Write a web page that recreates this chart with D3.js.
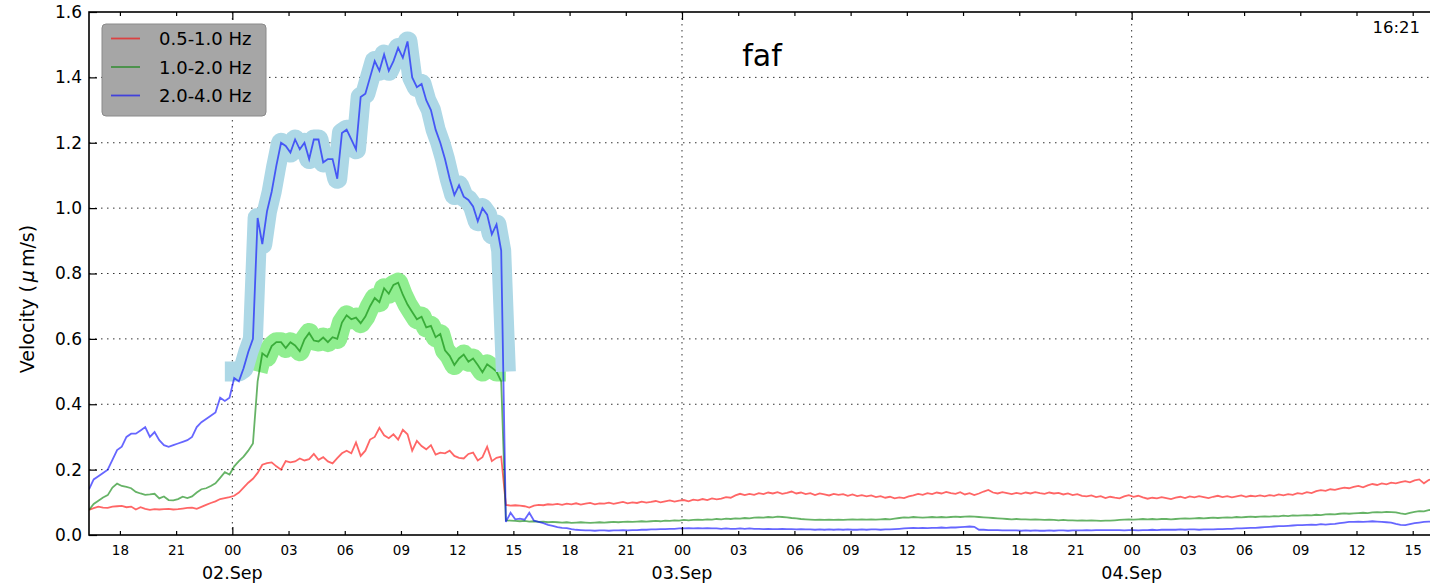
<!DOCTYPE html>
<html><head><meta charset="utf-8">
<script src="https://cdn.jsdelivr.net/npm/d3@7"></script>
<style>
html,body{margin:0;padding:0;background:#fff;}
svg{display:block;font-family:"DejaVu Sans",sans-serif;}
</style></head><body>
<svg id="chart" width="1430" height="588"></svg>
<script>
// ---------------- data ----------------
const startTime = Date.UTC(2017, 8, 1, 16, 21);
const endTime = Date.UTC(2017, 8, 4, 16, 21);
const stepMinutes = 15;
const seriesNames = ["0.5-1.0 Hz", "1.0-2.0 Hz", "2.0-4.0 Hz"];
const yTicks = [0, 0.2, 0.4, 0.6, 0.8, 1.0, 1.2, 1.4, 1.6];
const stationName = "faf";
const timeLabel = "16:21";
const alertLevel = 0.5;
const greenAlertWindow = [Date.UTC(2017, 8, 2, 1, 21), Date.UTC(2017, 8, 2, 14, 36)];
const blueAlertWindow = [Date.UTC(2017, 8, 1, 23, 36), Date.UTC(2017, 8, 2, 14, 36)];

const red = [
0.077,0.082,0.087,0.084,0.083,0.087,0.088,0.089,0.085,0.087,
0.078,0.085,0.080,0.077,0.079,0.078,0.079,0.080,0.078,0.079,
0.081,0.083,0.084,0.080,0.086,0.092,0.098,0.103,0.110,0.113,
0.116,0.120,0.130,0.145,0.160,0.172,0.190,0.215,0.220,0.222,
0.210,0.200,0.226,0.222,0.225,0.234,0.228,0.232,0.248,0.230,
0.238,0.225,0.219,0.235,0.250,0.258,0.250,0.283,0.242,0.258,
0.292,0.300,0.328,0.305,0.296,0.308,0.292,0.322,0.308,0.258,
0.288,0.272,0.262,0.275,0.246,0.252,0.250,0.258,0.242,0.236,
0.234,0.248,0.252,0.228,0.238,0.270,0.226,0.236,0.240,
0.092,0.090,0.091,0.090,0.088,0.084,0.090,0.092,0.091,0.094,0.093,
0.095,0.092,0.096,0.094,0.097,0.093,0.096,0.098,0.094,0.097,
0.096,0.099,0.095,0.098,0.101,0.097,0.100,0.098,0.102,0.099,
0.101,0.104,0.100,0.103,0.106,0.102,0.105,0.107,0.103,0.108,
0.106,0.110,0.107,0.112,0.109,0.111,0.116,0.114,0.121,0.126,
0.122,0.126,0.123,0.128,0.125,0.130,0.127,0.131,0.126,0.129,
0.133,0.127,0.130,0.125,0.128,0.122,0.127,0.124,0.121,0.126,
0.123,0.125,0.120,0.124,0.119,0.122,0.118,0.121,0.116,0.119,
0.114,0.117,0.112,0.115,0.113,0.118,0.121,0.126,0.123,0.128,
0.125,0.130,0.127,0.132,0.128,0.126,0.131,0.124,0.128,0.122,
0.127,0.133,0.138,0.130,0.127,0.131,0.128,0.125,0.129,0.126,
0.130,0.127,0.131,0.128,0.126,0.130,0.127,0.129,0.124,0.127,
0.122,0.125,0.120,0.118,0.121,0.116,0.119,0.113,0.117,0.114,
0.112,0.118,0.122,0.117,0.120,0.115,0.111,0.114,0.112,0.116,
0.113,0.110,0.114,0.117,0.113,0.118,0.115,0.119,0.116,0.113,
0.117,0.120,0.116,0.119,0.115,0.118,0.121,0.117,0.120,0.118,
0.121,0.118,0.122,0.120,0.124,0.121,0.125,0.123,0.128,0.126,
0.131,0.128,0.134,0.137,0.135,0.140,0.138,0.142,0.145,0.143,
0.147,0.150,0.146,0.152,0.156,0.153,0.158,0.155,0.160,0.158,
0.162,0.165,0.161,0.167,0.170,0.158,0.168,0.173,0.170
];

const green = [
0.077,0.095,0.105,0.115,0.122,0.145,0.157,0.150,0.147,0.143,
0.132,0.127,0.123,0.124,0.126,0.112,0.118,0.107,0.106,0.110,
0.117,0.113,0.118,0.130,0.140,0.143,0.150,0.158,0.175,0.192,
0.185,0.210,0.226,0.240,0.258,0.280,0.470,0.556,0.545,0.578,
0.590,0.590,0.572,0.590,0.580,0.562,0.598,0.618,0.595,0.592,
0.604,0.590,0.605,0.600,0.650,0.672,0.660,0.665,0.648,0.668,
0.700,0.725,0.712,0.755,0.738,0.765,0.772,0.735,0.705,0.682,
0.660,0.668,0.635,0.640,0.605,0.615,0.565,0.548,0.520,0.540,
0.552,0.530,0.540,0.520,0.498,0.522,0.512,0.500,0.470,
0.045,0.044,0.043,0.042,0.043,0.041,0.042,0.040,0.041,0.039,0.040,
0.039,0.038,0.039,0.037,0.038,0.039,0.038,0.037,0.038,0.039,
0.038,0.039,0.040,0.039,0.040,0.041,0.040,0.041,0.042,0.041,
0.042,0.043,0.042,0.044,0.043,0.045,0.044,0.046,0.045,0.046,
0.047,0.046,0.048,0.047,0.049,0.048,0.050,0.049,0.051,0.050,
0.052,0.051,0.053,0.054,0.053,0.055,0.054,0.056,0.055,0.054,
0.052,0.051,0.049,0.048,0.047,0.046,0.047,0.046,0.047,0.046,
0.047,0.046,0.047,0.048,0.047,0.048,0.047,0.048,0.047,0.048,
0.049,0.048,0.050,0.052,0.054,0.053,0.055,0.054,0.053,0.054,
0.055,0.054,0.055,0.054,0.055,0.056,0.055,0.056,0.057,0.056,
0.055,0.054,0.053,0.052,0.051,0.050,0.049,0.048,0.049,0.048,
0.048,0.047,0.048,0.047,0.046,0.047,0.046,0.045,0.046,0.045,
0.045,0.044,0.045,0.044,0.045,0.044,0.043,0.044,0.044,0.045,
0.046,0.047,0.048,0.047,0.048,0.049,0.048,0.049,0.048,0.049,
0.049,0.048,0.049,0.050,0.051,0.050,0.051,0.052,0.051,0.052,
0.053,0.052,0.053,0.054,0.053,0.055,0.054,0.055,0.056,0.055,
0.056,0.057,0.056,0.058,0.057,0.059,0.058,0.060,0.059,0.060,
0.061,0.060,0.062,0.061,0.063,0.064,0.063,0.065,0.066,0.065,
0.066,0.067,0.068,0.067,0.069,0.070,0.069,0.071,0.070,0.069,
0.066,0.064,0.068,0.071,0.073,0.072,0.076,0.078,0.079
];

const blue = [
0.14,0.17,0.18,0.19,0.20,0.23,0.26,0.27,0.30,0.31,
0.31,0.32,0.33,0.30,0.315,0.29,0.275,0.27,0.275,0.28,
0.285,0.29,0.30,0.33,0.345,0.355,0.365,0.375,0.42,0.41,
0.42,0.48,0.47,0.51,0.56,0.60,0.97,0.89,0.99,1.05,
1.13,1.20,1.19,1.17,1.21,1.18,1.20,1.15,1.21,1.21,
1.14,1.15,1.15,1.09,1.23,1.24,1.21,1.18,1.34,1.35,
1.40,1.45,1.42,1.47,1.42,1.45,1.49,1.46,1.51,1.40,
1.37,1.38,1.33,1.30,1.24,1.20,1.15,1.09,1.04,1.07,
1.035,1.025,1.005,0.96,1.00,0.98,0.92,0.95,0.87,
0.040,0.068,0.048,0.050,0.047,0.068,0.044,0.040,0.036,0.031,0.028,
0.024,0.022,0.021,0.018,0.016,0.015,0.014,0.014,0.013,0.014,
0.014,0.013,0.014,0.014,0.015,0.014,0.015,0.015,0.016,0.016,
0.017,0.017,0.018,0.018,0.019,0.019,0.020,0.020,0.021,0.020,
0.021,0.020,0.021,0.020,0.020,0.019,0.020,0.019,0.019,0.020,
0.019,0.020,0.019,0.019,0.018,0.019,0.018,0.018,0.019,0.018,
0.018,0.017,0.018,0.017,0.017,0.016,0.017,0.016,0.017,0.016,
0.017,0.016,0.017,0.016,0.016,0.017,0.016,0.017,0.017,0.016,
0.017,0.017,0.018,0.019,0.020,0.021,0.022,0.021,0.022,0.021,
0.022,0.022,0.023,0.022,0.023,0.023,0.024,0.025,0.026,0.025,
0.016,0.016,0.015,0.015,0.015,0.014,0.014,0.014,0.014,0.013,
0.014,0.013,0.014,0.013,0.013,0.014,0.013,0.014,0.014,0.013,
0.014,0.014,0.014,0.015,0.014,0.015,0.015,0.015,0.015,0.015,
0.015,0.014,0.015,0.015,0.014,0.015,0.015,0.016,0.015,0.016,
0.016,0.016,0.016,0.017,0.016,0.017,0.017,0.016,0.017,0.017,
0.017,0.018,0.018,0.019,0.019,0.020,0.020,0.021,0.022,0.022,
0.023,0.024,0.025,0.026,0.027,0.027,0.028,0.029,0.030,0.030,
0.031,0.032,0.031,0.033,0.032,0.033,0.034,0.036,0.038,0.040,
0.040,0.041,0.040,0.041,0.042,0.041,0.040,0.039,0.038,0.034,
0.031,0.030,0.033,0.036,0.038,0.040,0.041,0.040,0.041
];

const seriesColors = ["#ff0000", "#008000", "#0000ff"];
const alertColors = ["#90ee90", "#add8e6"];

// ---------------- layout ----------------
const plotL = 89, plotT = 12, plotR = 1438, plotB = 535;
const svg = d3.select("#chart");

const x = d3.scaleUtc().domain([new Date(startTime), new Date(endTime)]).range([plotL, plotR]);
const y = d3.scaleLinear().domain([0, 1.6]).range([plotB, plotT]);

const toPoints = arr => arr.map((v, i) => ({t: new Date(startTime + i * stepMinutes * 60000), v}));
const redPts = toPoints(red), greenPts = toPoints(green), bluePts = toPoints(blue);

svg.append("defs").append("clipPath").attr("id", "plotclip")
  .append("rect").attr("x", plotL).attr("y", plotT).attr("width", plotR - plotL).attr("height", plotB - plotT);

// grid
const grid = svg.append("g").attr("stroke", "#333").attr("stroke-width", 1).attr("stroke-dasharray", "1.5,4.5");
grid.selectAll("line.h").data(yTicks.filter(v => v > 0 && v < 1.6)).join("line")
  .attr("x1", plotL).attr("x2", plotR).attr("y1", d => y(d)).attr("y2", d => y(d));
const dayTicks = x.ticks(d3.utcDay.every(1));
grid.selectAll("line.v").data(dayTicks).join("line")
  .attr("x1", d => x(d)).attr("x2", d => x(d)).attr("y1", plotT).attr("y2", plotB);

// plot
const plot = svg.append("g").attr("clip-path", "url(#plotclip)");
const line = d3.line().x(d => x(d.t)).y(d => y(d.v));
const alertLine = d3.line().x(d => x(d.t)).y(d => y(Math.max(d.v, alertLevel)));
const inWin = (w) => d => +d.t >= w[0] && +d.t <= w[1];

plot.append("path").datum(redPts).attr("d", line)
  .attr("fill", "none").attr("stroke", seriesColors[0]).attr("stroke-opacity", 0.6).attr("stroke-width", 1.8);

plot.append("path").datum(greenPts.filter(inWin(greenAlertWindow))).attr("d", alertLine)
  .attr("fill", "none").attr("stroke", alertColors[0]).attr("stroke-width", 20).attr("stroke-linejoin", "round");
plot.append("path").datum(greenPts).attr("d", line)
  .attr("fill", "none").attr("stroke", seriesColors[1]).attr("stroke-opacity", 0.6).attr("stroke-width", 1.8);

plot.append("path").datum(bluePts.filter(inWin(blueAlertWindow))).attr("d", alertLine)
  .attr("fill", "none").attr("stroke", alertColors[1]).attr("stroke-width", 20).attr("stroke-linejoin", "round");
plot.append("path").datum(bluePts).attr("d", line)
  .attr("fill", "none").attr("stroke", seriesColors[2]).attr("stroke-opacity", 0.6).attr("stroke-width", 1.8);

// axes
const hourTicks = x.ticks(d3.utcHour.every(3));
const isMajor = d => d.getUTCHours() === 0;

const xb = svg.append("g").attr("transform", `translate(0,${plotB})`)
  .call(d3.axisBottom(x).tickValues(hourTicks).tickFormat(d3.utcFormat("%H")).tickSizeInner(-4).tickSizeOuter(0).tickPadding(10.5));
xb.selectAll(".tick line").attr("y2", d => isMajor(d) ? -8 : -4).attr("stroke-width", 1.2);
xb.selectAll(".tick text").attr("font-size", 13.5).attr("font-family", "DejaVu Sans").attr("fill", "#000");
xb.select(".domain").remove();

const xt = svg.append("g").attr("transform", `translate(0,${plotT})`)
  .call(d3.axisTop(x).tickValues(hourTicks).tickFormat("").tickSizeInner(-4).tickSizeOuter(0));
xt.selectAll(".tick line").attr("y2", d => isMajor(d) ? 8 : 4).attr("stroke-width", 1.2);
xt.select(".domain").remove();

const yl = svg.append("g").attr("transform", `translate(${plotL},0)`)
  .call(d3.axisLeft(y).tickValues(yTicks).tickFormat(d3.format(".1f")).tickSizeInner(-8).tickSizeOuter(0).tickPadding(7));
yl.selectAll(".tick line").attr("stroke-width", 1.2);
yl.selectAll(".tick text").attr("font-size", 17).attr("font-family", "DejaVu Sans").attr("fill", "#000");
yl.select(".domain").remove();

// date labels
svg.append("g").selectAll("text").data(dayTicks).join("text")
  .attr("x", d => x(d)).attr("y", 579).attr("text-anchor", "middle")
  .attr("font-size", 17.5).text(d3.utcFormat("%d.%b"));

// frame
svg.append("rect").attr("x", plotL).attr("y", plotT).attr("width", plotR - plotL).attr("height", plotB - plotT)
  .attr("fill", "none").attr("stroke", "#000").attr("stroke-width", 1.6);

// y label
const ylab = svg.append("text").attr("transform", "translate(34,299) rotate(-90)")
  .attr("text-anchor", "middle").attr("font-size", 19);
ylab.append("tspan").text("Velocity (");
ylab.append("tspan").attr("font-style", "italic").attr("dx", 3).text("\u03bc");
ylab.append("tspan").attr("dx", 3).text("m/s)");

// title and time
svg.append("text").attr("x", 762).attr("y", 66).attr("text-anchor", "middle").attr("font-size", 30).text(stationName);
svg.append("text").attr("x", 1420).attr("y", 33).attr("text-anchor", "end").attr("font-size", 16.5).text(timeLabel);

// legend
const lg = svg.append("g");
lg.append("rect").attr("x", 102).attr("y", 24).attr("width", 164).attr("height", 92).attr("rx", 4)
  .attr("fill", "#a6a6a6").attr("stroke", "#8a8a8a").attr("stroke-width", 1);
const rowY = [38.5, 67, 95.5];
seriesNames.forEach((name, i) => {
  lg.append("line").attr("x1", 111).attr("x2", 140).attr("y1", rowY[i]).attr("y2", rowY[i])
    .attr("stroke", seriesColors[i]).attr("stroke-opacity", 0.6).attr("stroke-width", 1.8);
  lg.append("text").attr("x", 159).attr("y", rowY[i] + 6.5).attr("font-size", 18).text(name);
});
</script>
</body></html>
